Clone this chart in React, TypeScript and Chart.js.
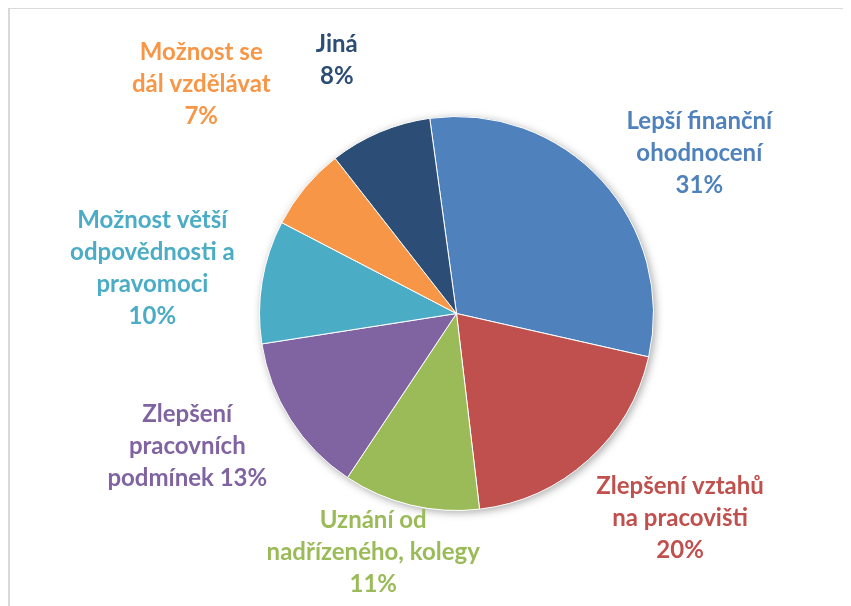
import React, { useEffect, useRef } from "react";
import { Chart, registerables } from "chart.js";

Chart.register(...registerables);

// ---- data ----
const categories = [
  "Lepší finanční ohodnocení",
  "Zlepšení vztahů na pracovišti",
  "Uznání od nadřízeného, kolegy",
  "Zlepšení pracovních podmínek",
  "Možnost větší odpovědnosti a pravomoci",
  "Možnost se dál vzdělávat",
  "Jiná",
];
const values = [30.7, 19.6, 11.2, 13.2, 10.1, 6.8, 8.4];
const percentLabels = ["31%", "20%", "11%", "13%", "10%", "7%", "8%"];
// wrapped label lines; "{p}" is replaced by the percent label
const labelLines = [
  ["Lepší finanční", "ohodnocení", "{p}"],
  ["Zlepšení vztahů", "na pracovišti", "{p}"],
  ["Uznání od", "nadřízeného, kolegy", "{p}"],
  ["Zlepšení", "pracovních", "podmínek {p}"],
  ["Možnost větší", "odpovědnosti a", "pravomoci", "{p}"],
  ["Možnost se", "dál vzdělávat", "{p}"],
  ["Jiná", "{p}"],
];
const colors = ["#4F81BD", "#C0504D", "#9BBB59", "#8064A2", "#4BACC6", "#F79646", "#2C4D75"];

// label placement: radial distance (x outer radius) and angular nudge (deg)
const labelRadius = [1.477, 1.538, 1.286, 1.523, 1.561, 1.74, 1.421];
const labelAngleShift = [9.1, -5.55, 5.75, 6.45, -0.8, 2.15, -2.4];

const FONT = "bold 24px Lato, 'Open Sans', sans-serif";
const LINE_H = 32;

const shadowPlugin = {
  id: "pieShadow",
  beforeDatasetsDraw(chart: any) {
    const meta = chart.getDatasetMeta(0);
    const a = meta.data[0];
    if (!a) return;
    const ctx = chart.ctx;
    ctx.save();
    ctx.beginPath();
    ctx.arc(a.x, a.y, a.outerRadius, 0, Math.PI * 2);
    ctx.fillStyle = "#ffffff";
    ctx.shadowColor = "rgba(0,0,0,0.35)";
    ctx.shadowBlur = 9;
    ctx.shadowOffsetX = 2;
    ctx.shadowOffsetY = 2;
    ctx.fill();
    ctx.restore();
  },
};

const labelPlugin = {
  id: "outerLabels",
  afterDatasetsDraw(chart: any) {
    const meta = chart.getDatasetMeta(0);
    const ctx = chart.ctx;
    ctx.save();
    ctx.font = FONT;
    ctx.textAlign = "center";
    ctx.textBaseline = "middle";
    meta.data.forEach((arc: any, i: number) => {
      const mid = (arc.startAngle + arc.endAngle) / 2 + (labelAngleShift[i] * Math.PI) / 180;
      const r = arc.outerRadius * labelRadius[i];
      const cx = arc.x + Math.cos(mid) * r;
      const cy = arc.y + Math.sin(mid) * r;
      const lines = labelLines[i].map((l) => l.replace("{p}", percentLabels[i]));
      const top = cy - ((lines.length - 1) * LINE_H) / 2;
      ctx.fillStyle = colors[i];
      lines.forEach((l, k) => ctx.fillText(l, cx, top + k * LINE_H));
    });
    ctx.restore();
  },
};

export default function App() {
  const ref = useRef<HTMLCanvasElement>(null);
  useEffect(() => {
    if (!ref.current) return;
    const chart = new Chart(ref.current, {
      type: "pie",
      data: {
        labels: categories,
        datasets: [
          {
            data: values,
            backgroundColor: colors,
            borderColor: "#ffffff",
            borderWidth: 1,
          },
        ],
      },
      options: {
        responsive: false,
        animation: false,
        rotation: -7.8,
        layout: { padding: { top: 107, left: 249, right: 197, bottom: 95 } },
        plugins: {
          legend: { display: false },
          tooltip: { enabled: false },
        },
      },
      plugins: [shadowPlugin, labelPlugin],
    });
    return () => chart.destroy();
  }, []);
  return (
    <div
      style={{
        position: "relative",
        top: -1,
        width: 843,
        height: 599,
        borderTop: "2px solid #d9d9d9",
        borderLeft: "2px solid #d9d9d9",
        boxSizing: "border-box",
        overflow: "hidden",
      }}
    >
      <canvas ref={ref} width={841} height={597} style={{ display: "block", width: 841, height: 597 }} />
    </div>
  );
}
